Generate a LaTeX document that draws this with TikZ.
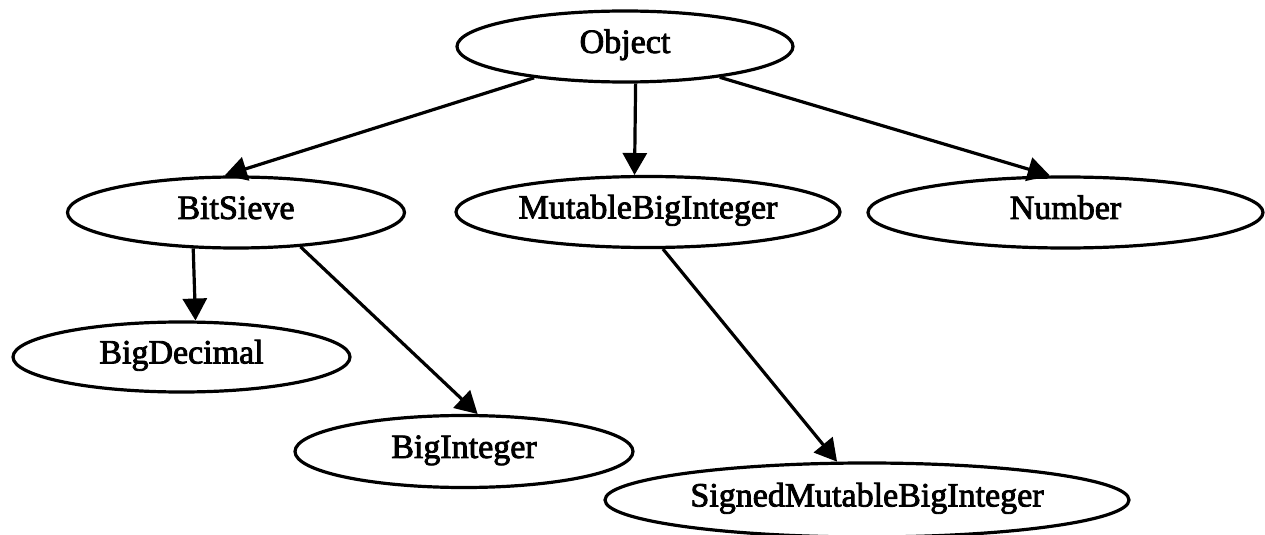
\documentclass[tikz,border=0pt]{standalone}
\usepackage{fontspec}
\newfontfamily\labelfont{Liberation Serif}[FakeBold=2.5]
\usetikzlibrary{shapes.geometric, arrows.meta}

\begin{document}
\begin{tikzpicture}[x=0.5pt, y=-0.5pt,
  cls/.style={ellipse, draw, line width=1.6pt, inner sep=0pt,
    minimum height=35.5pt,
    font=\labelfont\fontsize{17}{19}\selectfont,
    text height=1.6ex, text depth=0.1ex},
  inh/.style={line width=1.6pt, -{Triangle[length=11pt,width=12pt]}}]
\useasboundingbox (0,0) rectangle (1265,535);

% class nodes
\node[cls, minimum width=168pt]   (obj)  at (625,46.5)   {Object};
\node[cls, minimum width=168.5pt] (bs)   at (236,212.5)  {BitSieve};
\node[cls, minimum width=192pt]   (mbi)  at (648,212)    {MutableBigInteger};
\node[cls, minimum width=197.5pt] (num)  at (1065.5,212.5) {Number};
\node[cls, minimum width=168.5pt, minimum height=35pt] (bd) at (181.5,357) {BigDecimal};
\node[cls, minimum width=169pt, minimum height=36pt]   (bi) at (464,451.5) {BigInteger};
\node[cls, minimum width=262pt, minimum height=37pt]   (smbi) at (867,500) {SignedMutableBigInteger};

% inheritance edges
\draw[inh] (obj.-161.1) -- (bs.107.2);
\draw[inh] (obj.-74.2)  -- (mbi.110.2);
\draw[inh] (obj.-18.9)  -- (num.113.65);
\draw[inh] (bs.-140)    -- (bd.69.1);
\draw[inh] (bs.-28.5)   -- (bi.70.1);
\draw[inh] (mbi.-68.4)  -- (smbi.128.3);
\end{tikzpicture}
\end{document}
